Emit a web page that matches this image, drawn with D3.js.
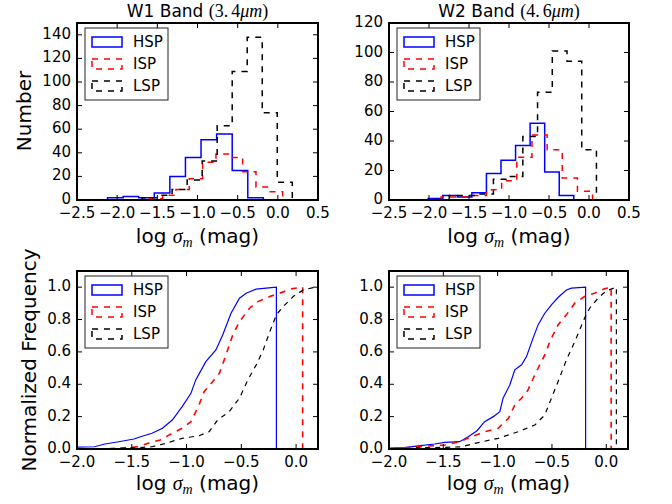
<!DOCTYPE html>
<html>
<head>
<meta charset="utf-8">
<script src="https://cdnjs.cloudflare.com/ajax/libs/d3/7.8.5/d3.min.js"></script>
<style>
  body { margin: 0; background: #fff; }
  svg { display: block; }
  text { font-family: "DejaVu Sans", sans-serif; fill: #000; }
  .math { font-family: "Liberation Serif", "DejaVu Serif", serif; }
</style>
</head>
<body>
<div id="chart"></div>
<script>
// series in drawing order
const seriesNames = ['HSP', 'ISP', 'LSP']

// top row: histograms, 10 equal bins between [lo, hi] for each series
const w1Ranges = [[-2.12, -0.18], [-1.60, 0.06], [-1.69, 0.18]]
const w1Hsp = [2, 3, 2, 6, 20, 36, 51, 56, 25, 2]
const w1Isp = [1, 4, 9, 18, 32, 39, 36, 24, 11, 7]
const w1Lsp = [2, 4, 9, 17, 33, 63, 109, 138, 74, 15]

const w2Ranges = [[-2.01, -0.19], [-1.85, 0.045], [-1.747, 0.093]]
const w2Hsp = [1, 3, 2, 5, 18, 27, 37, 52, 19, 3]
const w2Isp = [2, 2, 3, 7, 13, 29, 44, 34, 15, 6]
const w2Lsp = [3, 3, 4, 14, 16, 43, 73, 101, 94, 34]

// bottom row: normalized cumulative curves
const w1HspCdfX = [-2.12, -1.84, -1.745, -1.62, -1.48, -1.42, -1.315, -1.22, -1.13, -1.04, -0.96, -0.916, -0.824, -0.732, -0.67, -0.594, -0.517, -0.456, -0.364, -0.272, -0.18]
const w1HspCdfY = [0.01, 0.014, 0.031, 0.045, 0.062, 0.076, 0.097, 0.128, 0.179, 0.262, 0.344, 0.427, 0.54, 0.612, 0.705, 0.839, 0.932, 0.963, 0.988, 0.994, 1.0]
const w1IspCdfX = [-1.60, -1.56, -1.44, -1.35, -1.24, -1.13, -1.04, -0.96, -0.886, -0.84, -0.762, -0.70, -0.64, -0.578, -0.517, -0.425, -0.348, -0.24, -0.15, -0.04, 0.06]
const w1IspCdfY = [0.004, 0.008, 0.014, 0.035, 0.056, 0.097, 0.128, 0.169, 0.272, 0.354, 0.416, 0.468, 0.581, 0.705, 0.787, 0.87, 0.911, 0.942, 0.963, 0.99, 1.0]
const w1LspCdfX = [-1.69, -1.44, -1.315, -1.19, -1.04, -0.886, -0.794, -0.716, -0.61, -0.517, -0.44, -0.364, -0.30, -0.24, -0.18, -0.118, -0.026, 0.066, 0.158, 0.2]
const w1LspCdfY = [0.004, 0.008, 0.014, 0.035, 0.066, 0.082, 0.107, 0.179, 0.231, 0.314, 0.427, 0.52, 0.612, 0.725, 0.829, 0.88, 0.942, 0.983, 0.998, 1.0]

const w2HspCdfX = [-2.01, -1.85, -1.73, -1.58, -1.485, -1.35, -1.27, -1.19, -1.12, -1.04, -0.98, -0.95, -0.888, -0.842, -0.78, -0.734, -0.674, -0.628, -0.566, -0.505, -0.444, -0.367, -0.32, -0.19]
const w2HspCdfY = [0.006, 0.008, 0.019, 0.031, 0.041, 0.045, 0.076, 0.113, 0.169, 0.2, 0.231, 0.314, 0.396, 0.489, 0.52, 0.571, 0.685, 0.767, 0.839, 0.891, 0.936, 0.983, 0.994, 1.0]
const w2IspCdfX = [-1.85, -1.64, -1.485, -1.35, -1.24, -1.12, -0.995, -0.90, -0.842, -0.78, -0.72, -0.658, -0.628, -0.566, -0.52, -0.444, -0.367, -0.29, -0.2, -0.107, -0.015, 0.045]
const w2IspCdfY = [0.008, 0.019, 0.025, 0.045, 0.076, 0.107, 0.128, 0.19, 0.272, 0.314, 0.365, 0.458, 0.499, 0.581, 0.664, 0.767, 0.829, 0.901, 0.942, 0.963, 0.99, 1.0]
const w2LspCdfX = [-1.747, -1.485, -1.33, -1.21, -0.995, -0.81, -0.658, -0.566, -0.505, -0.444, -0.367, -0.29, -0.2, -0.153, -0.076, 0.0, 0.093]
const w2LspCdfY = [0.008, 0.01, 0.014, 0.035, 0.066, 0.107, 0.148, 0.21, 0.314, 0.416, 0.55, 0.664, 0.808, 0.87, 0.932, 0.977, 1.0]

const topXTicks = [-2.5, -2.0, -1.5, -1.0, -0.5, 0.0, 0.5]
const bottomXTicks = [-2.0, -1.5, -1.0, -0.5, 0.0]
const w1YTicks = [0, 20, 40, 60, 80, 100, 120, 140]
const w2YTicks = [0, 20, 40, 60, 80, 100, 120]
const cdfYTicks = [0.0, 0.2, 0.4, 0.6, 0.8, 1.0]

const colors = ['#0000ff', '#ff0000', '#000000']
const dashes = [null, '6,6', '6,6']

const svg = d3.select('#chart').append('svg')
    .attr('width', 672)
    .attr('height', 504)

let clipId = 0

function makePanel(box, xDomain, yDomain, xTicks, yTicks, yFmt) {
    const x = d3.scaleLinear().domain(xDomain).range([box.left, box.right])
    const y = d3.scaleLinear().domain(yDomain).range([box.bottom, box.top])
    const g = svg.append('g')
    const id = 'clip' + (clipId++)
    g.append('clipPath').attr('id', id)
        .append('rect')
        .attr('x', box.left).attr('y', box.top)
        .attr('width', box.right - box.left)
        .attr('height', box.bottom - box.top)
    const plot = g.append('g').attr('clip-path', 'url(#' + id + ')')

    // tick marks point inward on all four sides
    const tl = 5
    xTicks.forEach(function(t) {
        const xx = x(t)
        g.append('line').attr('x1', xx).attr('x2', xx)
            .attr('y1', box.bottom).attr('y2', box.bottom - tl)
            .attr('stroke', '#000')
        g.append('line').attr('x1', xx).attr('x2', xx)
            .attr('y1', box.top).attr('y2', box.top + tl)
            .attr('stroke', '#000')
        g.append('text').attr('x', xx).attr('y', box.bottom + 18)
            .attr('text-anchor', 'middle')
            .attr('font-size', 15)
            .text(d3.format('.1f')(t))
    })
    yTicks.forEach(function(t) {
        const yy = y(t)
        g.append('line').attr('x1', box.left).attr('x2', box.left + tl)
            .attr('y1', yy).attr('y2', yy)
            .attr('stroke', '#000')
        g.append('line').attr('x1', box.right).attr('x2', box.right - tl)
            .attr('y1', yy).attr('y2', yy)
            .attr('stroke', '#000')
        g.append('text').attr('x', box.left - 6).attr('y', yy - 1)
            .attr('text-anchor', 'end')
            .attr('dominant-baseline', 'central')
            .attr('font-size', 15)
            .text(yFmt(t))
    })
    return { x: x, y: y, g: g, plot: plot, box: box }
}

function drawFrame(p) {
    const b = p.box
    p.g.append('rect')
        .attr('x', b.left).attr('y', b.top)
        .attr('width', b.right - b.left)
        .attr('height', b.bottom - b.top)
        .attr('fill', 'none')
        .attr('stroke', '#000')
        .attr('stroke-width', 2)
}

function drawHist(p, range, counts, i) {
    const n = counts.length
    const edge = d3.scaleLinear().domain([0, n]).range(range)
    const pts = [[edge(0), 0]]
    counts.forEach(function(c, k) {
        pts.push([edge(k), c])
        pts.push([edge(k + 1), c])
    })
    pts.push([edge(n), 0])
    p.plot.append('path')
        .attr('d', d3.line().x(d => p.x(d[0])).y(d => p.y(d[1]))(pts))
        .attr('fill', 'none')
        .attr('stroke', colors[i])
        .attr('stroke-width', 1.5)
        .attr('stroke-dasharray', dashes[i])
}

// cumulative curve: rises from zero at the first value, follows the read points,
// then the closing vertical drop at the largest value
function drawCdf(p, xs, ys, i) {
    const pts = [[xs[0], 0]]
    xs.forEach(function(v, k) {
        pts.push([v, ys[k]])
    })
    pts.push([xs[xs.length - 1], 0])
    p.plot.append('path')
        .attr('d', d3.line().x(d => p.x(d[0])).y(d => p.y(d[1]))(pts))
        .attr('fill', 'none')
        .attr('stroke', colors[i])
        .attr('stroke-width', i === 1 ? 1.6 : 1.2)
        .attr('stroke-dasharray', dashes[i] ? (i === 1 ? '6,6' : '5,5') : null)
}

function drawLegend(p) {
    const lx = p.box.left + 8
    const ly = p.box.top + 5
    const lg = p.g.append('g')
    lg.append('rect')
        .attr('x', lx).attr('y', ly)
        .attr('width', 83).attr('height', 72)
        .attr('fill', '#fff')
        .attr('stroke', '#222')
        .attr('stroke-width', 1)
    seriesNames.forEach(function(name, i) {
        const cy = ly + 14 + i * 22
        lg.append('rect')
            .attr('x', lx + 7).attr('y', cy - 5)
            .attr('width', 30).attr('height', 10)
            .attr('fill', 'none')
            .attr('stroke', colors[i])
            .attr('stroke-width', 1.5)
            .attr('stroke-dasharray', dashes[i])
        lg.append('text')
            .attr('x', lx + 48).attr('y', cy)
            .attr('dominant-baseline', 'central')
            .attr('font-size', 15)
            .text(name)
    })
}

function xLabel(p, yPos) {
    const cx = (p.box.left + p.box.right) / 2
    const t = svg.append('text')
        .attr('x', cx).attr('y', yPos)
        .attr('text-anchor', 'middle')
        .attr('font-size', 20)
    t.append('tspan').text('log ')
    t.append('tspan').attr('class', 'math').attr('font-style', 'italic').text('σ')
    t.append('tspan').attr('class', 'math').attr('font-style', 'italic')
        .attr('font-size', 14).attr('dy', 4).text('m')
    t.append('tspan').attr('dy', -4).text(' (mag)')
}

function title(p, band, wave) {
    const cx = (p.box.left + p.box.right) / 2
    const t = svg.append('text')
        .attr('x', cx).attr('y', 17)
        .attr('text-anchor', 'middle')
        .attr('font-size', 17)
    t.append('tspan').text(band + ' Band ')
    t.append('tspan').attr('class', 'math').attr('font-size', 18).text('(' + wave[0] + '.')
    t.append('tspan').attr('class', 'math').attr('font-size', 18).attr('dx', 3).text(wave[1])
    t.append('tspan').attr('class', 'math').attr('font-size', 18).attr('font-style', 'italic').text('μm')
    t.append('tspan').attr('class', 'math').attr('font-size', 18).text(')')
}

function yLabel(text, xPos, yPos) {
    svg.append('text')
        .attr('transform', 'translate(' + xPos + ',' + yPos + ') rotate(-90)')
        .attr('text-anchor', 'middle')
        .attr('font-size', 20)
        .text(text)
}

const intFmt = d3.format('d')
const oneFmt = d3.format('.1f')

// top-left: W1 histogram
const p1 = makePanel({ left: 77, right: 318, top: 23, bottom: 200 }, [-2.5, 0.5], [0, 150], topXTicks, w1YTicks, intFmt)
;[w1Hsp, w1Isp, w1Lsp].forEach((c, i) => drawHist(p1, w1Ranges[i], c, i))
drawFrame(p1)
drawLegend(p1)

// top-right: W2 histogram
const p2 = makePanel({ left: 389, right: 629, top: 23, bottom: 200 }, [-2.5, 0.5], [0, 120], topXTicks, w2YTicks, intFmt)
;[w2Hsp, w2Isp, w2Lsp].forEach((c, i) => drawHist(p2, w2Ranges[i], c, i))
drawFrame(p2)
drawLegend(p2)

// bottom-left: W1 cumulative
const p3 = makePanel({ left: 77, right: 318, top: 271, bottom: 449 }, [-2.0, 0.2], [0, 1.1], bottomXTicks, cdfYTicks, oneFmt)
drawCdf(p3, w1HspCdfX, w1HspCdfY, 0)
drawCdf(p3, w1IspCdfX, w1IspCdfY, 1)
drawCdf(p3, w1LspCdfX, w1LspCdfY, 2)
drawFrame(p3)
drawLegend(p3)

// bottom-right: W2 cumulative
const p4 = makePanel({ left: 389, right: 628, top: 271, bottom: 449 }, [-2.0, 0.2], [0, 1.1], bottomXTicks, cdfYTicks, oneFmt)
drawCdf(p4, w2HspCdfX, w2HspCdfY, 0)
drawCdf(p4, w2IspCdfX, w2IspCdfY, 1)
drawCdf(p4, w2LspCdfX, w2LspCdfY, 2)
drawFrame(p4)
drawLegend(p4)

title(p1, 'W1', ['3', '4'])
title(p2, 'W2', ['4', '6'])
xLabel(p1, 243)
xLabel(p2, 243)
xLabel(p3, 490)
xLabel(p4, 490)
yLabel('Number', 31, 111)
yLabel('Normalized Frequency', 36, 360)
</script>
</body>
</html>
